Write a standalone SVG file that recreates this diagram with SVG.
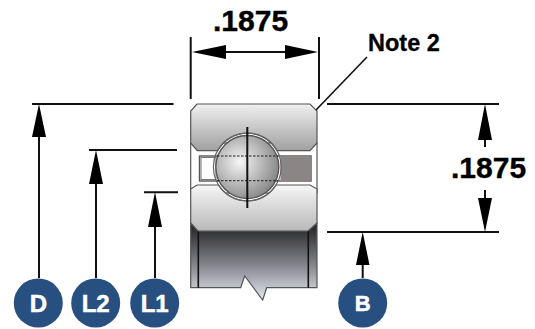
<svg xmlns="http://www.w3.org/2000/svg" width="535" height="329" viewBox="0 0 535 329">
<style>
.dim{stroke:#111;stroke-width:2;fill:none}
.thin{stroke:#111;stroke-width:1.6;fill:none}
.head{fill:#000;stroke:none}
.outline{stroke:#555;stroke-width:1.2}
.badge{fill:#274f80}
.badge-t{fill:#fff;stroke:#fff;stroke-width:.5;font:bold 24px "Liberation Sans",Arial,sans-serif;text-anchor:middle}
.big{fill:#000;stroke:#000;stroke-width:.4;font:bold 30px "Liberation Sans",Arial,sans-serif}
.note{fill:#000;stroke:#000;stroke-width:.3;font:bold 23.5px "Liberation Sans",Arial,sans-serif}
</style>
<defs>
<linearGradient id="top" x1="0" y1="0" x2="0" y2="1"><stop offset="0" stop-color="#f0f0f0"/><stop offset="1" stop-color="#a0a0a0"/></linearGradient>
<linearGradient id="bot" x1="0" y1="0" x2="0" y2="1"><stop offset="0" stop-color="#f6f6f6"/><stop offset="1" stop-color="#b8b8b8"/></linearGradient>
<linearGradient id="bore" x1="0" y1="0" x2="0" y2="1"><stop offset="0" stop-color="#1e1e20"/><stop offset="0.55" stop-color="#85868c"/><stop offset="1" stop-color="#e6e8f2"/></linearGradient>
<radialGradient id="ball" cx="0.38" cy="0.42" r="0.7"><stop offset="0" stop-color="#f6f6f6"/><stop offset="1" stop-color="#7c7c7c"/></radialGradient>
</defs>
<g id="bearing">
<path d="M190.7 223L198 231H308L317 223V287.7H266.7L262.7 300L244.7 276L240.7 287.7H190.7Z" fill="url(#bore)" class="outline"/>
<path class="thin" d="M198.3 231V287.7M308.3 231V287.7"/>
<rect x="190.7" y="143" width="126.3" height="50" fill="#fff" class="outline"/>
<rect x="199.5" y="156" width="111.5" height="25" fill="#fff" stroke="#555" stroke-width="1.4"/>
<rect x="201" y="157.5" width="15" height="22" fill="#fff" stroke="#777" stroke-width="1"/>
<rect x="280.5" y="156.5" width="30" height="24" fill="#8b8585"/>
<path d="M197 104H310L317 111V143L310 150.7H277A33.9 33.9 0 0 0 217.6 150.7H197.3L190.7 143V111Z" fill="url(#top)" class="outline"/>
<path d="M197 185H218.5A33.9 33.9 0 0 0 276 185H310L317 189V223L308 231H198L190.7 223V189Z" fill="url(#bot)" class="outline"/>
<circle cx="247.3" cy="167" r="33.9" fill="none" stroke="#666" stroke-width="1.2"/>
<circle cx="247.3" cy="167" r="31.5" fill="url(#ball)" stroke="#555" stroke-width="1.4"/>
<path d="M217 156H278M217 180.7H278" stroke="#222" stroke-width="1" stroke-dasharray="2.5 1.5" fill="none"/>
<path d="M247.3 127V208" stroke="#111" stroke-width="2" fill="none"/>
</g>
<g id="connectors">
<path class="dim" d="M32 104H173.6M89 150H177M144 192.3H178M327 104H499M327 232H499"/>
<path class="dim" d="M39 130V278M96 178V278M155 220V278M362.7 260V278M485 135V147M485 190V205"/>
<path class="dim" d="M190.7 37V99M319 37V99M220 52H290"/>
<path class="thin" d="M367 57L316 110"/>
<path class="head" d="M39 104L46 137H32ZM96 150L103 184H89ZM155 192L162 227H148ZM362.7 232L369.5 265H356ZM485 104L492 140H478ZM485 232L478 198H492ZM192 52L226 45V59ZM318 52L285 45V59Z"/>
</g>
<g id="node-d"><circle class="badge" cx="38.3" cy="303" r="24.5"/><text class="badge-t" x="38.3" y="311.5">D</text></g>
<g id="node-l2"><circle class="badge" cx="95.7" cy="303" r="24.5"/><text class="badge-t" x="95.7" y="311.5">L2</text></g>
<g id="node-l1"><circle class="badge" cx="154.7" cy="303" r="24.5"/><text class="badge-t" x="154.7" y="311.5">L1</text></g>
<g id="node-b"><circle class="badge" cx="362.7" cy="303" r="24.5"/><text class="badge-t" x="362.7" y="311" style="font-size:22px">B</text></g>
<g id="labels">
<text class="big" x="213" y="30.7">.1875</text>
<text class="big" x="451" y="177.7">.1875</text>
<text class="note" x="368" y="50.7">Note 2</text>
</g>
</svg>
